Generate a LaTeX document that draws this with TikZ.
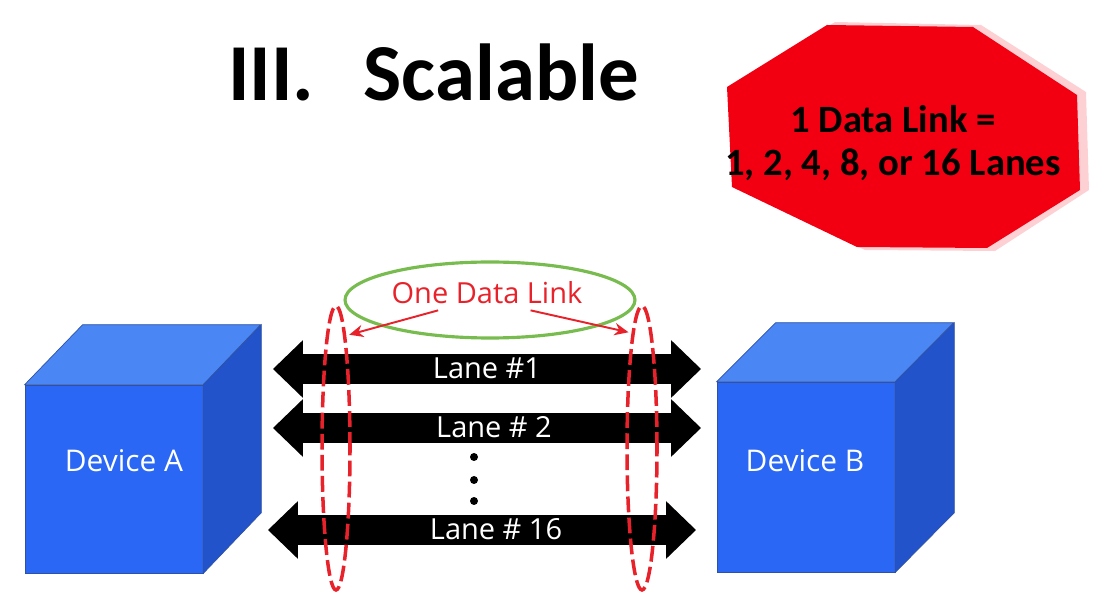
\documentclass[tikz,border=0pt]{standalone}
\usepackage{fontspec}
\setmainfont{Open Sans}
\newfontfamily\calib{Carlito}
\usetikzlibrary{shapes.geometric, shapes.arrows, arrows.meta, calc}

\definecolor{cubefront}{HTML}{2A67F4}
\definecolor{cubetop}{HTML}{4A86F4}
\definecolor{cubeside}{HTML}{2253CA}
\definecolor{cubeedge}{HTML}{2F52A6}
\definecolor{stopred}{HTML}{F20012}
\definecolor{linkred}{HTML}{E8222A}
\definecolor{ringgreen}{HTML}{78BC50}

\begin{document}
\begin{tikzpicture}[x=0.02cm, y=-0.02cm,
        face/.style={draw=cubeedge, fill=cubefront, minimum width=3.56cm,
                     minimum height=3.76cm, inner sep=0pt},
        devtext/.style={text=white, font=\fontsize{17}{20}\selectfont},
        lane/.style={double arrow, fill=black, text=white,
                     font=\fontsize{16.5}{19}\selectfont,
                     inner xsep=0pt, inner ysep=0pt,
                     text height=0.49cm, text depth=0.09cm,
                     minimum height=8.56cm, minimum width=1.14cm,
                     double arrow head extend=0.28cm, double arrow tip angle=88},
        linkring/.style={ellipse, draw=linkred, line width=2pt,
                         dash pattern=on 9pt off 3pt, minimum width=0.56cm,
                         minimum height=5.68cm, inner sep=0pt},
        pointer/.style={draw=linkred, line width=1.1pt, shorten >=2pt,
                        -{Stealth[length=8pt, width=7pt]}},
        dot/.style={circle, fill=black, inner sep=0pt, minimum size=0.16cm},
    ]
    \useasboundingbox (0,0) rectangle (1102,597);

    % title
    \node[anchor=base west, font=\calib\bfseries\fontsize{46}{54}\selectfont]
        (title) at (222,101) {III.\hspace{28pt}Scalable};

    % stop sign
    \fill[stopred!18] (835,22) -- (981,25) -- (1086,92) -- (1089,190)
        -- (995,251) -- (865,250) -- (740,190) -- (735,84) -- cycle;
    \fill[stopred] (827,25) -- (973,27) -- (1077,95) -- (1080,190)
        -- (987,248) -- (857,247) -- (732,187) -- (727,87) -- cycle;
    \node[align=center, font=\calib\bfseries\fontsize{22}{24.5}\selectfont]
        (rule) at (893,143) {1 Data Link =\\1, 2, 4, 8, or 16 Lanes};

    % device A
    \node[face] (devA) at (114,479) {};
    \filldraw[fill=cubetop, draw=cubeedge] (devA.north west) -- ++(58,-60)
        -- ++(178,0) -- (devA.north east) -- cycle;
    \filldraw[fill=cubeside, draw=cubeedge] (devA.north east) -- ++(58,-60)
        -- ++(0,188) -- (devA.south east) -- cycle;
    \node[devtext] (nameA) at (124,461) {Device A};

    % device B
    \node[face, minimum height=3.8cm] (devB) at (806,477) {};
    \filldraw[fill=cubetop, draw=cubeedge] (devB.north west) -- ++(59,-59)
        -- ++(178,0) -- (devB.north east) -- cycle;
    \filldraw[fill=cubeside, draw=cubeedge] (devB.north east) -- ++(59,-59)
        -- ++(0,190) -- (devB.south east) -- cycle;
    \node[devtext] (nameB) at (805,461) {Device B};

    % lanes
    \node[lane] (lane1)  at (487,369) {Lane \#1};
    \node[lane] (lane2)  at (487,428) {\hspace{8pt}Lane \# 2};
    \node[lane] (lane16) at (482,530) {\hspace{16pt}Lane \# 16};
    \node[dot] (dot1) at (474,457) {};
    \node[dot] (dot2) at (474,480) {};
    \node[dot] (dot3) at (474,501) {};

    % link markers
    \node[linkring] (linkA) at (336,448) {};
    \node[linkring, minimum width=0.6cm] (linkB) at (642,448) {};
    \node[ellipse, draw=ringgreen, line width=1.8pt, minimum width=5.8cm,
          minimum height=1.52cm] (ring) at (490,300) {};
    \node[text=linkred, font=\fontsize{16.5}{19}\selectfont]
        (onelink) at (487,293) {One Data Link};
    \draw[pointer] ([xshift=30]onelink.south west) -- (linkA.85);
    \draw[pointer] ([xshift=-33]onelink.south east) -- (linkB.95);
\end{tikzpicture}
\end{document}
